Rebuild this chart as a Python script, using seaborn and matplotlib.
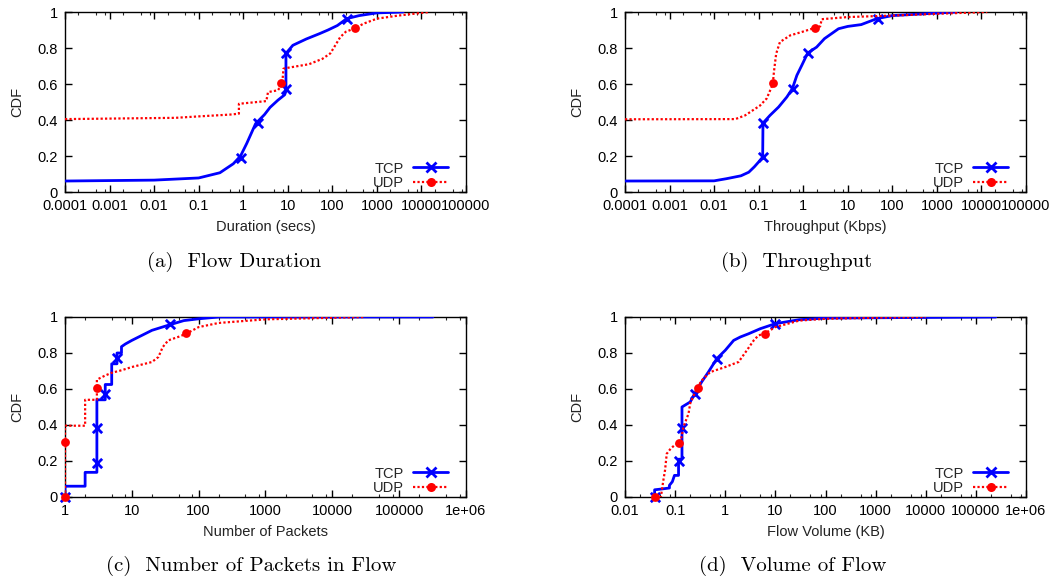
import matplotlib
matplotlib.use("Agg")
import matplotlib.pyplot as plt
from matplotlib.lines import Line2D
from matplotlib.ticker import FixedLocator, FixedFormatter, LogLocator, NullFormatter
import seaborn as sns
import pandas as pd

# ---------------- data ----------------
# (a) Flow Duration
a_tcp_x = [1e-4, 0.01, 0.1, 0.3, 0.6, 0.87, 1.2, 1.9, 3, 4, 6, 8.5, 9.1, 9.1, 13, 26, 52, 80, 130, 210, 400, 1000, 3900]
a_tcp_y = [0.061, 0.066, 0.078, 0.107, 0.157, 0.2, 0.27, 0.38, 0.43, 0.47, 0.51, 0.54, 0.56, 0.77, 0.815, 0.85, 0.88, 0.9, 0.925, 0.963, 0.98, 0.995, 1.0]
a_tcp_mx = [0.87, 2.2, 9.2, 9.2, 210]
a_tcp_my = [0.19, 0.385, 0.575, 0.77, 0.963]
a_udp_x = [1e-4, 0.03, 0.1, 0.5, 0.8, 0.8, 3.3, 3.6, 6, 7.5, 8, 10, 30, 60, 90, 120, 150, 200, 325, 500, 1000, 3000, 15000]
a_udp_y = [0.405, 0.412, 0.42, 0.43, 0.435, 0.49, 0.505, 0.555, 0.565, 0.6, 0.685, 0.69, 0.71, 0.74, 0.77, 0.82, 0.86, 0.89, 0.91, 0.935, 0.963, 0.98, 1.0]
a_udp_mx = [7, 325]
a_udp_my = [0.607, 0.91]

# (b) Throughput
b_tcp_x = [1e-4, 0.01, 0.019, 0.04, 0.06, 0.08, 0.1, 0.123, 0.125, 0.18, 0.28, 0.43, 0.57, 0.72, 0.93, 1.26, 2, 3, 6.2, 10, 20, 45, 100, 1000, 2800]
b_tcp_y = [0.061, 0.062, 0.074, 0.09, 0.11, 0.14, 0.167, 0.194, 0.383, 0.426, 0.472, 0.528, 0.574, 0.648, 0.704, 0.772, 0.805, 0.852, 0.907, 0.92, 0.93, 0.963, 0.98, 0.994, 1.0]
b_tcp_mx = [0.125, 0.125, 0.58, 1.3, 47]
b_tcp_my = [0.194, 0.385, 0.574, 0.772, 0.963]
b_udp_x = [1e-4, 0.03, 0.05, 0.074, 0.107, 0.152, 0.208, 0.22, 0.247, 0.3, 0.51, 0.93, 1.77, 2.4, 2.6, 10, 100, 1000, 13500]
b_udp_y = [0.404, 0.405, 0.426, 0.454, 0.48, 0.52, 0.6, 0.667, 0.768, 0.833, 0.87, 0.889, 0.911, 0.92, 0.96, 0.972, 0.98, 0.99, 1.0]
b_udp_mx = [0.21, 1.8]
b_udp_my = [0.607, 0.911]

# (c) Number of Packets in Flow
c_tcp_x = [1, 1, 2, 2, 3, 3, 4, 4, 5, 5, 6, 6, 7, 7, 8, 10, 20, 37, 60, 100, 200, 3.2e5]
c_tcp_y = [0, 0.06, 0.06, 0.137, 0.137, 0.54, 0.54, 0.625, 0.625, 0.74, 0.74, 0.8, 0.8, 0.835, 0.85, 0.87, 0.926, 0.957, 0.98, 0.99, 1.0, 1.0]
c_tcp_mx = [1, 3, 3, 4, 6, 37]
c_tcp_my = [0, 0.19, 0.385, 0.575, 0.77, 0.96]
c_udp_x = [1, 1, 2, 2, 3, 3, 4, 5, 7, 10, 20, 25, 29, 35, 50, 65, 100, 200, 1000, 30000]
c_udp_y = [0, 0.396, 0.396, 0.54, 0.54, 0.652, 0.675, 0.69, 0.704, 0.722, 0.75, 0.778, 0.833, 0.87, 0.89, 0.907, 0.944, 0.967, 0.987, 1.0]
c_udp_mx = [1, 1, 3, 65]
c_udp_my = [0, 0.305, 0.607, 0.91]

# (d) Volume of Flow
d_tcp_x = [0.039, 0.039, 0.056, 0.077, 0.077, 0.088, 0.097, 0.117, 0.117, 0.137, 0.137, 0.2, 0.245, 0.34, 0.46, 0.68, 1, 1.47, 2, 2.93, 5, 10, 30, 100, 2.5e5]
d_tcp_y = [0, 0.04, 0.045, 0.05, 0.065, 0.085, 0.12, 0.12, 0.21, 0.21, 0.5, 0.528, 0.574, 0.64, 0.694, 0.769, 0.815, 0.87, 0.889, 0.907, 0.935, 0.963, 0.985, 0.994, 1.0]
d_tcp_mx = [0.039, 0.12, 0.138, 0.25, 0.7, 10]
d_tcp_my = [0, 0.2, 0.385, 0.574, 0.769, 0.963]
d_udp_x = [0.04, 0.052, 0.058, 0.063, 0.068, 0.082, 0.1, 0.12, 0.132, 0.147, 0.185, 0.2, 0.27, 0.34, 0.5, 1, 1.47, 1.84, 2.7, 3.7, 4.6, 6, 10, 30, 100, 1000, 10000]
d_udp_y = [0, 0, 0.09, 0.15, 0.24, 0.27, 0.29, 0.3, 0.324, 0.39, 0.463, 0.52, 0.602, 0.648, 0.694, 0.722, 0.74, 0.75, 0.815, 0.87, 0.898, 0.907, 0.944, 0.98, 0.99, 0.996, 1.0]
d_udp_mx = [0.04, 0.12, 0.28, 6.2]
d_udp_my = [0, 0.3, 0.607, 0.907]

# tick labels / texts
ab_xticks = [1e-4, 1e-3, 1e-2, 1e-1, 1, 10, 100, 1000, 1e4, 1e5]
ab_xticklabels = ["0.0001", "0.001", "0.01", "0.1", "1", "10", "100", "1000", "10000", "100000"]
c_xticks = [1, 10, 100, 1000, 1e4, 1e5, 1e6]
c_xticklabels = ["1", "10", "100", "1000", "10000", "100000", "1e+06"]
d_xticks = [0.01, 0.1, 1, 10, 100, 1000, 1e4, 1e5, 1e6]
d_xticklabels = ["0.01", "0.1", "1", "10", "100", "1000", "10000", "100000", "1e+06"]
yticks = [0, 0.2, 0.4, 0.6, 0.8, 1.0]
yticklabels = ["0", "0.2", "0.4", "0.6", "0.8", "1"]
xlabels = ["Duration (secs)", "Throughput (Kbps)", "Number of Packets", "Flow Volume (KB)"]
captions = ["(a)  Flow Duration", "(b)  Throughput", "(c)  Number of Packets in Flow", "(d)  Volume of Flow"]
series_names = ["TCP", "UDP"]

# ---------------- styling ----------------
sns.set_theme(style="ticks")
plt.rcParams["font.family"] = ["Liberation Sans", "DejaVu Sans"]
plt.rcParams["axes.linewidth"] = 1.0

TCP_COLOR = "#0000ff"
UDP_COLOR = "#ff0000"
FS = 10.5

fig = plt.figure(figsize=(10.54, 5.81), dpi=100)
W, H = 1054.0, 581.0
boxes = [(65, 12, 466, 192), (625, 12, 1026, 192), (65, 317, 466, 497), (625, 317, 1026, 497)]
axes = []
for (l, t, r, b) in boxes:
    axes.append(fig.add_axes([l / W, 1 - b / H, (r - l) / W, (b - t) / H]))

panels = [
    (a_tcp_x, a_tcp_y, a_tcp_mx, a_tcp_my, a_udp_x, a_udp_y, a_udp_mx, a_udp_my, ab_xticks, ab_xticklabels, (1e-4, 1e5)),
    (b_tcp_x, b_tcp_y, b_tcp_mx, b_tcp_my, b_udp_x, b_udp_y, b_udp_mx, b_udp_my, ab_xticks, ab_xticklabels, (1e-4, 1e5)),
    (c_tcp_x, c_tcp_y, c_tcp_mx, c_tcp_my, c_udp_x, c_udp_y, c_udp_mx, c_udp_my, c_xticks, c_xticklabels, (1, 1e6)),
    (d_tcp_x, d_tcp_y, d_tcp_mx, d_tcp_my, d_udp_x, d_udp_y, d_udp_mx, d_udp_my, d_xticks, d_xticklabels, (0.01, 1e6)),
]

for i, (ax, p) in enumerate(zip(axes, panels)):
    tx, ty, tmx, tmy, ux, uy, umx, umy, xt, xtl, xlim = p
    ax.set_xscale("log")
    sns.lineplot(x=tx, y=ty, ax=ax, estimator=None, sort=False, color=TCP_COLOR,
                 linewidth=2.0, zorder=3)
    sns.scatterplot(x=tmx, y=tmy, ax=ax, marker="x", s=45, color=TCP_COLOR,
                    linewidth=2.0, clip_on=False, zorder=4)
    sns.lineplot(x=ux, y=uy, ax=ax, estimator=None, sort=False, color=UDP_COLOR,
                 linewidth=1.6, linestyle=(0, (1, 1)), zorder=5)
    sns.scatterplot(x=umx, y=umy, ax=ax, marker="o", s=40, color=UDP_COLOR,
                    edgecolor=UDP_COLOR, linewidth=0, clip_on=False, zorder=6)
    ax.set_xlim(*xlim)
    ax.set_ylim(0, 1)
    ax.xaxis.set_major_locator(FixedLocator(xt))
    ax.xaxis.set_major_formatter(FixedFormatter(xtl))
    ax.xaxis.set_minor_locator(LogLocator(base=10, subs=(2, 5, 8), numticks=30))
    ax.xaxis.set_minor_formatter(NullFormatter())
    ax.yaxis.set_major_locator(FixedLocator(yticks))
    ax.yaxis.set_major_formatter(FixedFormatter(yticklabels))
    ax.tick_params(which="major", direction="in", top=True, right=True, length=5,
                   width=1.0, labelsize=FS, pad=5, colors="black")
    ax.tick_params(which="minor", direction="in", top=True, right=False, left=False,
                   length=2.5, width=0.8)
    ax.set_xlabel(xlabels[i], fontsize=FS, labelpad=5, color="#222222")
    ax.set_ylabel("CDF", fontsize=FS, labelpad=10, color="#222222")
    for s in ax.spines.values():
        s.set_color("black")
        s.set_linewidth(1.0)
    ax.set_facecolor("white")
    handles = [
        Line2D([], [], color=TCP_COLOR, lw=2.0, marker="x", markersize=7, mew=2.0),
        Line2D([], [], color=UDP_COLOR, lw=1.6, linestyle=(0, (1, 1)), marker="o",
               markersize=6.5, mew=0),
    ]
    ax.legend(handles, series_names, loc="lower right", bbox_to_anchor=(0.967, -0.015),
              markerfirst=False, frameon=False,
              fontsize=FS, handlelength=2.45, handletextpad=0.6, labelspacing=0.05,
              borderaxespad=0.0, borderpad=0.3, numpoints=1)

cap_pos = [(234, 262), (797, 262), (251, 566), (793, 566)]
for (cx, cy), txt in zip(cap_pos, captions):
    fig.text(cx / W, 1 - cy / H, txt, ha="center", va="center", family="cmr10",
             fontsize=15, color="black")

fig.savefig("out.png", dpi=100, facecolor="white")
